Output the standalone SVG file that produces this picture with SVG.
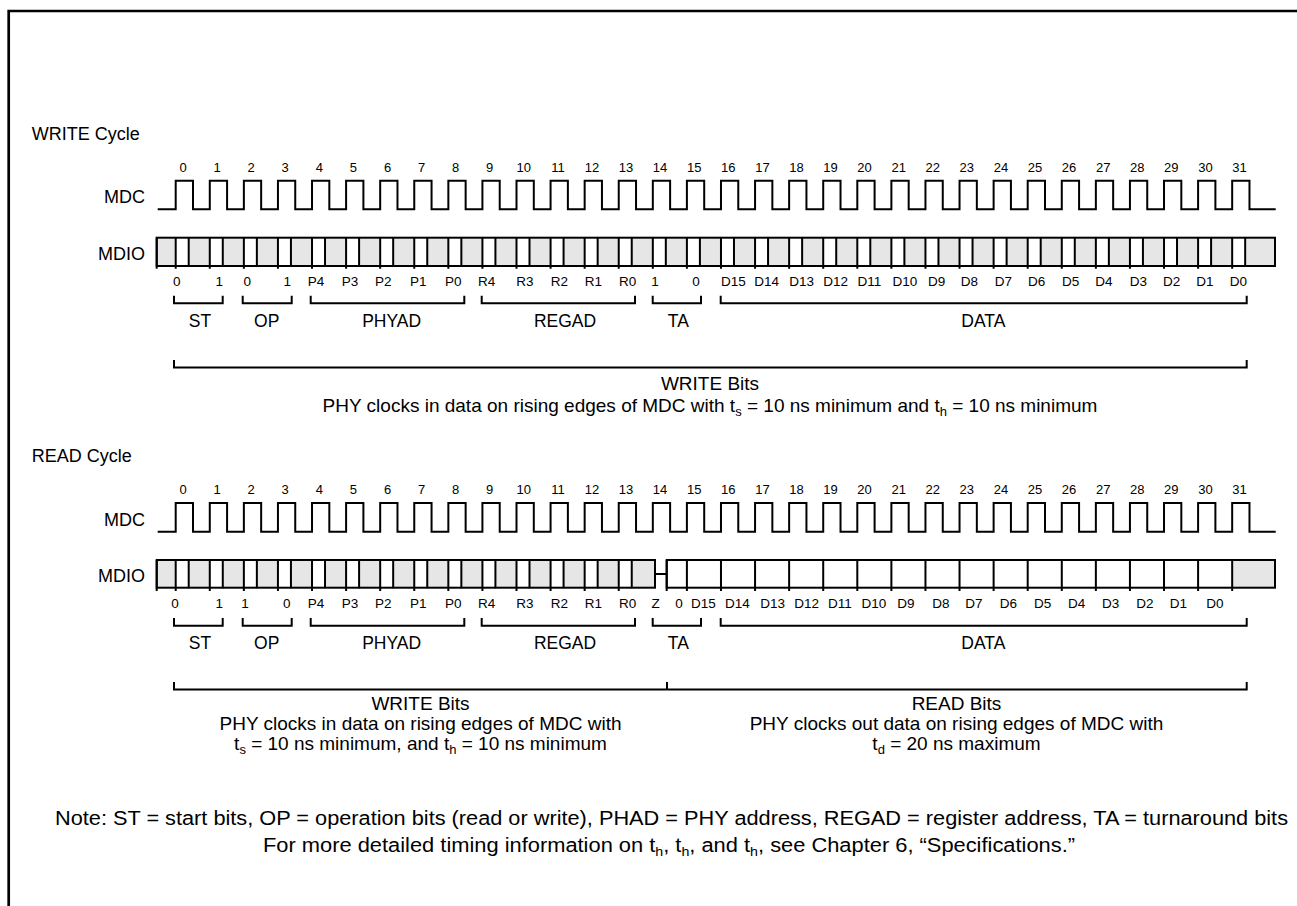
<svg xmlns="http://www.w3.org/2000/svg" xmlns:xlink="http://www.w3.org/1999/xlink" width="1297" height="906" viewBox="0 0 1297 906">
<style>
text{font-family:"Liberation Sans",Arial,Helvetica,sans-serif;fill:#000}
.title{font-size:18px}
.sig{font-size:18px;text-anchor:end}
.num{font-size:13px;text-anchor:middle}
.bit{font-size:13.5px;text-anchor:middle}
.grp{font-size:17.5px;text-anchor:middle}
.desc{font-size:19px;text-anchor:middle}
.note{font-size:20px}
.ln{fill:none;stroke:#000;stroke-width:2}
.gray{fill:#e6e6e6}
.sub{font-size:13px}
</style>
<defs>
<path id="clk" class="ln" d="M157.7 0H175.7V-28.6H193V0H209.78V-28.6H227.08V0H243.86V-28.6H261.16V0H277.94V-28.6H295.24V0H312.02V-28.6H329.32V0H346.1V-28.6H363.4V0H380.18V-28.6H397.48V0H414.26V-28.6H431.56V0H448.34V-28.6H465.64V0H482.42V-28.6H499.72V0H516.5V-28.6H533.8V0H550.58V-28.6H567.88V0H584.66V-28.6H601.96V0H618.74V-28.6H636.04V0H652.82V-28.6H670.12V0H686.9V-28.6H704.2V0H720.98V-28.6H738.28V0H755.06V-28.6H772.36V0H789.14V-28.6H806.44V0H823.22V-28.6H840.52V0H857.3V-28.6H874.6V0H891.38V-28.6H908.68V0H925.46V-28.6H942.76V0H959.54V-28.6H976.84V0H993.62V-28.6H1010.92V0H1027.7V-28.6H1045V0H1061.78V-28.6H1079.08V0H1095.86V-28.6H1113.16V0H1129.94V-28.6H1147.24V0H1164.02V-28.6H1181.32V0H1198.1V-28.6H1215.4V0H1232.18V-28.6H1249.48V0H1275.7"/>
<g id="cell">
<rect x="0" y="0" width="13" height="28.3" fill="#fff"/>
<path class="ln" d="M0 0V31M13 0V28.3"/>
</g>
<path id="tk" class="ln" d="M0 0V31"/>
<g id="nums">
<text class="num" x="183" y="0">0</text><text class="num" x="217.1" y="0">1</text><text class="num" x="251.2" y="0">2</text><text class="num" x="285.2" y="0">3</text><text class="num" x="319.3" y="0">4</text><text class="num" x="353.4" y="0">5</text><text class="num" x="387.5" y="0">6</text><text class="num" x="421.6" y="0">7</text><text class="num" x="455.6" y="0">8</text><text class="num" x="489.7" y="0">9</text><text class="num" x="523.8" y="0">10</text><text class="num" x="557.9" y="0">11</text><text class="num" x="592" y="0">12</text><text class="num" x="626" y="0">13</text><text class="num" x="660.1" y="0">14</text><text class="num" x="694.2" y="0">15</text><text class="num" x="728.3" y="0">16</text><text class="num" x="762.4" y="0">17</text><text class="num" x="796.4" y="0">18</text><text class="num" x="830.5" y="0">19</text><text class="num" x="864.6" y="0">20</text><text class="num" x="898.7" y="0">21</text><text class="num" x="932.8" y="0">22</text><text class="num" x="966.8" y="0">23</text><text class="num" x="1000.9" y="0">24</text><text class="num" x="1035" y="0">25</text><text class="num" x="1069.1" y="0">26</text><text class="num" x="1103.2" y="0">27</text><text class="num" x="1137.2" y="0">28</text><text class="num" x="1171.3" y="0">29</text><text class="num" x="1205.4" y="0">30</text><text class="num" x="1239.5" y="0">31</text>
</g>
<g id="groups">
<path class="ln" d="M174 -7.6V0H222.7V-7.6M242.7 -7.6V0H291.7V-7.6M310.7 -7.6V0H464.3V-7.6M481.7 -7.6V0H635V-7.6M652.7 -7.6V0H701V-7.6M720.7 -7.6V0H1246.7V-7.6"/>
<text class="grp" x="200" y="23.4">ST</text>
<text class="grp" x="266.7" y="23.4">OP</text>
<text class="grp" x="391.7" y="23.4">PHYAD</text>
<text class="grp" x="565" y="23.4">REGAD</text>
<text class="grp" x="678.3" y="23.4">TA</text>
<text class="grp" x="983.3" y="23.4">DATA</text>
</g>
</defs>

<g id="border">
<path d="M7.5 11H1297M8.7 9.7V906" fill="none" stroke="#000" stroke-width="2.7"/>
</g>

<g id="write-cycle">
<text class="title" x="31.7" y="140">WRITE Cycle</text>
<g id="write-mdc">
<text class="sig" x="145" y="203.3">MDC</text>
<use href="#nums" y="171.5"/>
<use href="#clk" y="209.3"/>
</g>
<g id="write-mdio">
<text class="sig" x="145" y="260">MDIO</text>
<g transform="translate(0,237.7)">
<rect class="gray" x="156.7" y="0" width="1118.3" height="28.3"/>
<use href="#cell" x="175.7"/><use href="#cell" x="209.78"/><use href="#cell" x="243.86"/><use href="#cell" x="277.94"/><use href="#cell" x="312.02"/><use href="#cell" x="346.1"/><use href="#cell" x="380.18"/><use href="#cell" x="414.26"/><use href="#cell" x="448.34"/><use href="#cell" x="482.42"/><use href="#cell" x="516.5"/><use href="#cell" x="550.58"/><use href="#cell" x="584.66"/><use href="#cell" x="618.74"/><use href="#cell" x="652.82"/><use href="#cell" x="686.9"/><use href="#cell" x="720.98"/><use href="#cell" x="755.06"/><use href="#cell" x="789.14"/><use href="#cell" x="823.22"/><use href="#cell" x="857.3"/><use href="#cell" x="891.38"/><use href="#cell" x="925.46"/><use href="#cell" x="959.54"/><use href="#cell" x="993.62"/><use href="#cell" x="1027.7"/><use href="#cell" x="1061.78"/><use href="#cell" x="1095.86"/><use href="#cell" x="1129.94"/><use href="#cell" x="1164.02"/><use href="#cell" x="1198.1"/><use href="#cell" x="1232.18"/>
<rect class="ln" x="156.7" y="0" width="1118.3" height="28.3"/>
<use href="#tk" x="156.7"/>
</g>
</g>
<g id="write-bits">
<text class="bit" x="176.7" y="286">0</text><text class="bit" x="219.3" y="286">1</text><text class="bit" x="247.3" y="286">0</text><text class="bit" x="287.3" y="286">1</text><text class="bit" x="316" y="286">P4</text><text class="bit" x="350" y="286">P3</text><text class="bit" x="383.3" y="286">P2</text><text class="bit" x="418.3" y="286">P1</text><text class="bit" x="453.3" y="286">P0</text><text class="bit" x="486.7" y="286">R4</text><text class="bit" x="525" y="286">R3</text><text class="bit" x="559.3" y="286">R2</text><text class="bit" x="593.3" y="286">R1</text><text class="bit" x="627.7" y="286">R0</text><text class="bit" x="655" y="286">1</text><text class="bit" x="696" y="286">0</text><text class="bit" x="733.3" y="286">D15</text><text class="bit" x="766.7" y="286">D14</text><text class="bit" x="801.7" y="286">D13</text><text class="bit" x="835.7" y="286">D12</text><text class="bit" x="869.3" y="286">D11</text><text class="bit" x="905" y="286">D10</text><text class="bit" x="936.7" y="286">D9</text><text class="bit" x="969.3" y="286">D8</text><text class="bit" x="1003.3" y="286">D7</text><text class="bit" x="1036.7" y="286">D6</text><text class="bit" x="1070.7" y="286">D5</text><text class="bit" x="1104" y="286">D4</text><text class="bit" x="1138.3" y="286">D3</text><text class="bit" x="1171.7" y="286">D2</text><text class="bit" x="1205" y="286">D1</text><text class="bit" x="1238.3" y="286">D0</text>
</g>
<use id="write-fields" href="#groups" y="303.3"/>
<g id="write-summary">
<path class="ln" d="M174 360V367.6H1246.7V360"/>
<text class="desc" x="710" y="389.5">WRITE Bits</text>
<text class="desc" x="710" y="411.5">PHY clocks in data on rising edges of MDC with t<tspan class="sub" dy="4">s</tspan><tspan dy="-4"> = 10 ns minimum and t</tspan><tspan class="sub" dy="4">h</tspan><tspan dy="-4"> = 10 ns minimum</tspan></text>
</g>
</g>

<g id="read-cycle">
<text class="title" x="31.7" y="462">READ Cycle</text>
<g id="read-mdc">
<text class="sig" x="145" y="525.5">MDC</text>
<use href="#nums" y="493.5"/>
<use href="#clk" y="531.7"/>
</g>
<g id="read-mdio">
<text class="sig" x="145" y="582">MDIO</text>
<g transform="translate(0,560)">
<rect class="gray" x="156.7" y="0" width="498.3" height="27.7"/>
<use href="#cell" x="175.7"/><use href="#cell" x="209.78"/><use href="#cell" x="243.86"/><use href="#cell" x="277.94"/><use href="#cell" x="312.02"/><use href="#cell" x="346.1"/><use href="#cell" x="380.18"/><use href="#cell" x="414.26"/><use href="#cell" x="448.34"/><use href="#cell" x="482.42"/><use href="#cell" x="516.5"/><use href="#cell" x="550.58"/><use href="#cell" x="584.66"/><use href="#cell" x="618.74"/>
<rect class="ln" x="156.7" y="0" width="498.3" height="27.7"/>
<use href="#tk" x="156.7"/>
<path class="ln" d="M655 14H666.7"/>
<rect fill="#fff" x="666.7" y="0" width="608.3" height="27.7"/>
<rect class="gray" x="1232.18" y="0" width="42.82" height="27.7"/>
<path class="ln" d="M666.7 0V31M686.9 0V31M720.98 0V31M755.06 0V31M789.14 0V31M823.22 0V31M857.3 0V31M891.38 0V31M925.46 0V31M959.54 0V31M993.62 0V31M1027.7 0V31M1061.78 0V31M1095.86 0V31M1129.94 0V31M1164.02 0V31M1198.1 0V31M1232.18 0V31"/>
<rect class="ln" x="666.7" y="0" width="608.3" height="27.7"/>
</g>
</g>
<g id="read-bits">
<text class="bit" x="175" y="607.5">0</text><text class="bit" x="219.3" y="607.5">1</text><text class="bit" x="245" y="607.5">1</text><text class="bit" x="286.7" y="607.5">0</text><text class="bit" x="316" y="607.5">P4</text><text class="bit" x="350" y="607.5">P3</text><text class="bit" x="383.3" y="607.5">P2</text><text class="bit" x="418.3" y="607.5">P1</text><text class="bit" x="453.3" y="607.5">P0</text><text class="bit" x="486.7" y="607.5">R4</text><text class="bit" x="525" y="607.5">R3</text><text class="bit" x="559.3" y="607.5">R2</text><text class="bit" x="593.3" y="607.5">R1</text><text class="bit" x="627.7" y="607.5">R0</text><text class="bit" x="655.7" y="607.5">Z</text><text class="bit" x="679" y="607.5">0</text><text class="bit" x="703.3" y="607.5">D15</text><text class="bit" x="737.3" y="607.5">D14</text><text class="bit" x="772.7" y="607.5">D13</text><text class="bit" x="806.7" y="607.5">D12</text><text class="bit" x="840" y="607.5">D11</text><text class="bit" x="874" y="607.5">D10</text><text class="bit" x="906" y="607.5">D9</text><text class="bit" x="941" y="607.5">D8</text><text class="bit" x="974" y="607.5">D7</text><text class="bit" x="1008.3" y="607.5">D6</text><text class="bit" x="1042.7" y="607.5">D5</text><text class="bit" x="1076.7" y="607.5">D4</text><text class="bit" x="1110.7" y="607.5">D3</text><text class="bit" x="1145" y="607.5">D2</text><text class="bit" x="1178.3" y="607.5">D1</text><text class="bit" x="1215" y="607.5">D0</text>
</g>
<use id="read-fields" href="#groups" y="625.7"/>
<g id="read-summary">
<path class="ln" d="M174 682V689.6H1246.7V682M667 682V689.6"/>
<text class="desc" x="420.5" y="710">WRITE Bits</text>
<text class="desc" x="420.5" y="730">PHY clocks in data on rising edges of MDC with</text>
<text class="desc" x="420.5" y="750">t<tspan class="sub" dy="4">s</tspan><tspan dy="-4"> = 10 ns minimum, and t</tspan><tspan class="sub" dy="4">h</tspan><tspan dy="-4"> = 10 ns minimum</tspan></text>
<text class="desc" x="956.5" y="710">READ Bits</text>
<text class="desc" x="956.5" y="730">PHY clocks out data on rising edges of MDC with</text>
<text class="desc" x="956.5" y="750">t<tspan class="sub" dy="4">d</tspan><tspan dy="-4"> = 20 ns maximum</tspan></text>
</g>
</g>

<g id="notes">
<text class="note" x="55" y="825" textLength="1233" lengthAdjust="spacingAndGlyphs">Note: ST = start bits, OP = operation bits (read or write), PHAD = PHY address, REGAD = register address, TA = turnaround bits</text>
<text class="note" x="263" y="852" textLength="812" lengthAdjust="spacingAndGlyphs">For more detailed timing information on t<tspan class="sub" dy="4">h</tspan><tspan dy="-4">, t</tspan><tspan class="sub" dy="4">h</tspan><tspan dy="-4">, and t</tspan><tspan class="sub" dy="4">h</tspan><tspan dy="-4">, see Chapter 6, “Specifications.”</tspan></text>
</g>
</svg>
